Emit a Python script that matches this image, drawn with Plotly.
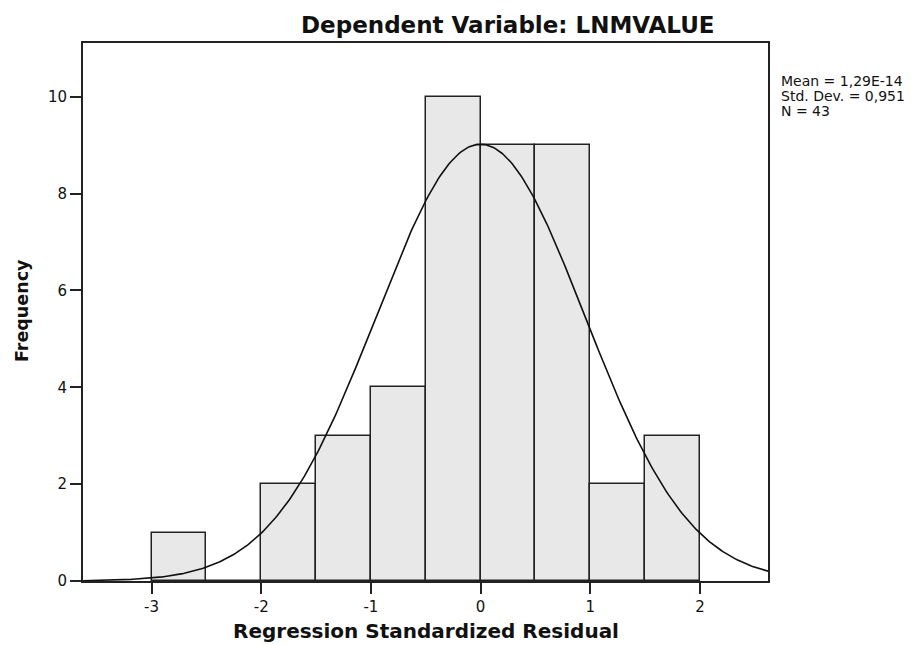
import numpy as np
import plotly.graph_objects as go

bin_left = [-3.0, -2.5, -2.0, -1.5, -1.0, -0.5, 0.0, 0.5, 1.0, 1.5]
counts = [1, 0, 2, 3, 4, 10, 9, 9, 2, 3]
bin_width = 0.5
mean_val = 1.29e-14
std_dev = 0.951
n_obs = 43
x_ticks = [-3, -2, -1, 0, 1, 2]
y_ticks = [0, 2, 4, 6, 8, 10]
stat_lines = ["Mean = 1,29E-14", "Std. Dev. = 0,951", "N = 43"]

# page body has an 8px margin, so work in shifted coordinates
OFF = 8
W, H = 919 - OFF, 645 - OFF
L, R, T, B = 83 - OFF, 768 - OFF, 43 - OFF, 581 - OFF

centers = [b + bin_width / 2 for b in bin_left]
x_min, x_max = -3.625, 2.62
xs = np.linspace(x_min, x_max, 400)
ys = n_obs * bin_width / (std_dev * np.sqrt(2 * np.pi)) * np.exp(-0.5 * ((xs - mean_val) / std_dev) ** 2)

FONT = "DejaVu Sans, Verdana, sans-serif"
INK = "#111111"


def px_x(p):
    return (p - OFF - L) / (R - L)


def px_y(p):
    return (B - (p - OFF)) / (B - T)


fig = go.Figure()
fig.add_trace(go.Bar(
    x=centers, y=counts, width=bin_width,
    marker=dict(color="#e8e8e8", line=dict(color="#222222", width=1.5)),
    hoverinfo="skip", showlegend=False,
))
fig.add_trace(go.Scatter(
    x=xs, y=ys, mode="lines", line=dict(color=INK, width=1.6),
    hoverinfo="skip", showlegend=False, cliponaxis=True,
))

axis_common = dict(
    ticks="outside", ticklen=11, tickwidth=1.5, tickcolor="#222222",
    showline=True, linecolor="#222222", linewidth=1.8, mirror=True,
    showgrid=False, zeroline=False, automargin=False,
    tickfont=dict(size=15, family=FONT, color=INK),
)

annotations = [
    dict(text="<b>Dependent Variable: LNMVALUE</b>", xref="paper", yref="paper",
         x=px_x(508), y=px_y(25), xanchor="center", yanchor="middle",
         showarrow=False, font=dict(size=23, family=FONT, color=INK)),
    dict(text="<b>Regression Standardized Residual</b>", xref="paper", yref="paper",
         x=px_x(426), y=px_y(631), xanchor="center", yanchor="middle",
         showarrow=False, font=dict(size=20, family=FONT, color=INK)),
    dict(text="<b>Frequency</b>", xref="paper", yref="paper", textangle=-90,
         x=px_x(22), y=px_y(311), xanchor="center", yanchor="middle",
         showarrow=False, font=dict(size=17.5, family=FONT, color=INK)),
]
for i, line in enumerate(stat_lines):
    annotations.append(dict(
        text=line, xref="paper", yref="paper",
        x=px_x(779), y=px_y(81 + 15 * i), xanchor="left", yanchor="middle",
        showarrow=False, font=dict(size=14, family=FONT, color=INK)))

fig.update_layout(
    width=W, height=H,
    margin=dict(l=L, r=W - R, t=T, b=H - B, autoexpand=False),
    paper_bgcolor="white", plot_bgcolor="white",
    font=dict(family=FONT, color=INK, size=14),
    bargap=0,
    xaxis=dict(range=[x_min, x_max], tickvals=x_ticks,
               ticktext=[str(v) for v in x_ticks], **axis_common),
    yaxis=dict(range=[0, 11.11], tickvals=y_ticks,
               ticktext=[str(v) for v in y_ticks], **axis_common),
    annotations=annotations,
)

fig.write_html("out.html")
